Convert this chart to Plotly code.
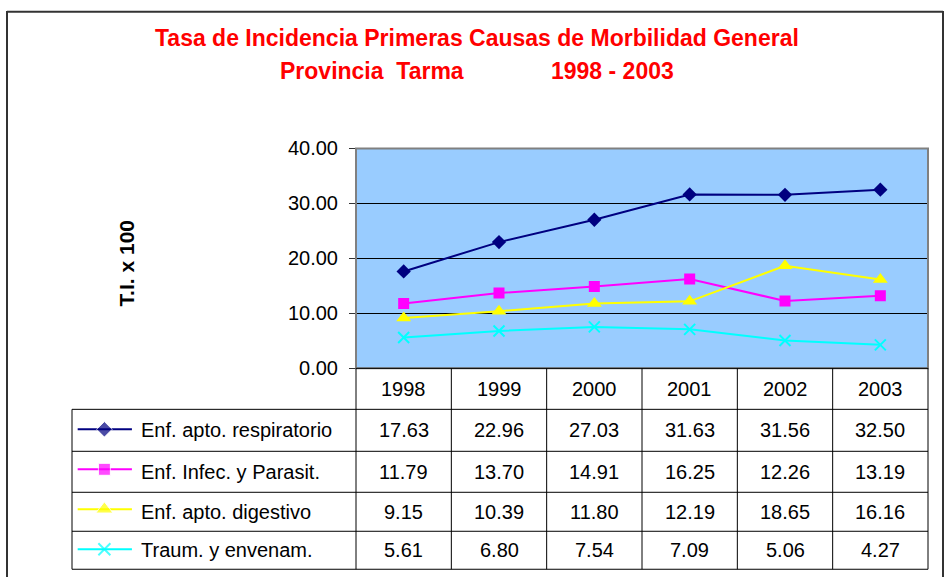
import plotly.graph_objects as go

years = ["1998", "1999", "2000", "2001", "2002", "2003"]
series_names = ["Enf. apto. respiratorio", "Enf. Infec. y Parasit.",
                "Enf. apto. digestivo", "Traum. y envenam."]
resp = [17.63, 22.96, 27.03, 31.63, 31.56, 32.50]
infec = [11.79, 13.70, 14.91, 16.25, 12.26, 13.19]
digest = [9.15, 10.39, 11.80, 12.19, 18.65, 16.16]
traum = [5.61, 6.80, 7.54, 7.09, 5.06, 4.27]
all_values = [resp, infec, digest, traum]
y_ticks = [0, 10, 20, 30, 40]

colors = ["#000080", "#FF00FF", "#FFFF00", "#00FFFF"]
symbols = ["diamond", "square", "triangle-up", "x-thin"]
msizes = [11, 11, 13, 11]
key_sizes = [12, 12, 15, 12]

W, H = 946, 588
# the page is photographed with a small vertical offset / squeeze; compensate
OFF, SQ = 9.5, 0.963
def px(x): return x / W
def py(y):
    v = 1 - ((y - OFF) / SQ) / H
    return min(max(v, 0.0), 1.0)

PL, PR, PT, PB = 356, 928, 147, 367
ROWS = [367, 408, 450, 491, 530, 568]
LEGL = 72
FONT = "Liberation Sans, Arial, sans-serif"

fig = go.Figure()
for i, (name, vals) in enumerate(zip(series_names, all_values)):
    mk = dict(symbol=symbols[i], size=msizes[i], color=colors[i])
    if symbols[i] == "x-thin":
        mk["line"] = dict(color=colors[i], width=2)
    fig.add_trace(go.Scatter(x=years, y=vals, mode="lines+markers", name=name,
                             line=dict(color=colors[i], width=2), marker=mk,
                             showlegend=False, xaxis="x", yaxis="y"))
    # legend key inside the data table
    mk2 = dict(mk)
    mk2["size"] = [0, key_sizes[i], 0]
    fig.add_trace(go.Scatter(x=[0.02, 0.114, 0.211], y=[i + 0.5] * 3, mode="lines+markers",
                             line=dict(color=colors[i], width=2), marker=mk2,
                             showlegend=False, hoverinfo="skip", xaxis="x2", yaxis="y2"))

fig.update_layout(
    width=W, height=H, margin=dict(l=0, r=0, t=0, b=0),
    paper_bgcolor="white", plot_bgcolor="rgba(0,0,0,0)",
    font=dict(family=FONT, color="black"),
    xaxis=dict(domain=[px(PL), px(PR)], type="category", range=[-0.5, 5.5],
               showticklabels=False, showgrid=False, zeroline=False, ticks=""),
    yaxis=dict(domain=[py(PB), py(PT)], range=[0, 40], tickvals=y_ticks,
               tickformat=".2f", ticks="outside", ticklen=6, tickcolor="#333",
               ticklabelstandoff=7,
               tickfont=dict(size=20, family=FONT), showgrid=True,
               gridcolor="black", gridwidth=1, zeroline=False),
    xaxis2=dict(domain=[px(LEGL), px(PL)], range=[0, 1], visible=False),
    yaxis2=dict(domain=[py(ROWS[-1]), py(ROWS[1])], range=[4, 0], visible=False),
)

def pline(x0, y0, x1, y1, color="black", width=1):
    return dict(type="line", xref="paper", yref="paper", x0=px(x0), x1=px(x1),
                y0=py(y0), y1=py(y1), line=dict(color=color, width=width))

shapes = []
# plot background
shapes.append(dict(type="rect", xref="paper", yref="paper", x0=px(PL), x1=px(PR),
                   y0=py(PB), y1=py(PT), fillcolor="#99CCFF", line=dict(width=0),
                   layer="below"))
# outer chart border (bottom edge lies outside the picture)
shapes.append(dict(type="line", xref="paper", yref="paper", x0=px(7), x1=px(943),
                   y0=0.9985, y1=0.9985, line=dict(color="#333", width=2)))
shapes.append(pline(7, 0, 7, 600, "#333", 2))
shapes.append(pline(943, 0, 943, 600, "#333", 2))
# plot frame
shapes.append(dict(type="rect", xref="paper", yref="paper", x0=px(PL), x1=px(PR),
                   y0=py(PB), y1=py(PT), line=dict(color="#808080", width=2)))
# table lines
colw = (PR - PL) / len(years)
for k in range(len(years) + 1):
    x = PL + k * colw
    shapes.append(pline(x, ROWS[0], x, ROWS[-1]))
shapes.append(pline(LEGL, ROWS[1], LEGL, ROWS[-1]))
for r in ROWS[1:]:
    shapes.append(pline(LEGL, r, PR, r))
shapes.append(pline(PL, PB, PR, PB))
fig.update_layout(shapes=shapes)

def note(text, x, y, size=20, color="black", xanchor="center", angle=0):
    return dict(text=text, x=px(x), y=py(y), xref="paper", yref="paper",
                xanchor=xanchor, yanchor="middle", showarrow=False, textangle=angle,
                font=dict(size=size, color=color, family=FONT))

ann = []
ann.append(note("<b>Tasa de Incidencia Primeras Causas de Morbilidad General</b>",
                477, 37, size=23, color="#FF0000"))
ann.append(note("<b>Provincia  Tarma</b>", 372, 70, size=23, color="#FF0000"))
ann.append(note("<b>1998 - 2003</b>", 612, 70, size=23, color="#FF0000"))
ann.append(note("<b>T.I. x 100</b>", 126, 262, size=21, angle=-90))
for j, yr in enumerate(years):
    cx = PL + (j + 0.5) * colw
    ann.append(note(yr, cx, (ROWS[0] + ROWS[1]) / 2))
for i, (name, vals) in enumerate(zip(series_names, all_values)):
    cy = (ROWS[i + 1] + ROWS[i + 2]) / 2
    ann.append(note(name, 139, cy, xanchor="left"))
    for j, v in enumerate(vals):
        cx = PL + (j + 0.5) * colw
        ann.append(note(f"{v:.2f}", cx, cy))
fig.update_layout(annotations=ann)

post = ("document.documentElement.style.margin='0';"
        "document.documentElement.style.overflow='hidden';"
        "document.body.style.margin='0';document.body.style.padding='0';"
        "document.body.style.overflow='hidden';"
        "var d=document.getElementById('{plot_id}');"
        "d.style.position='absolute';d.style.top='0px';d.style.left='0px';")
fig.write_html("out.html", post_script=post, config={"displayModeBar": False})
